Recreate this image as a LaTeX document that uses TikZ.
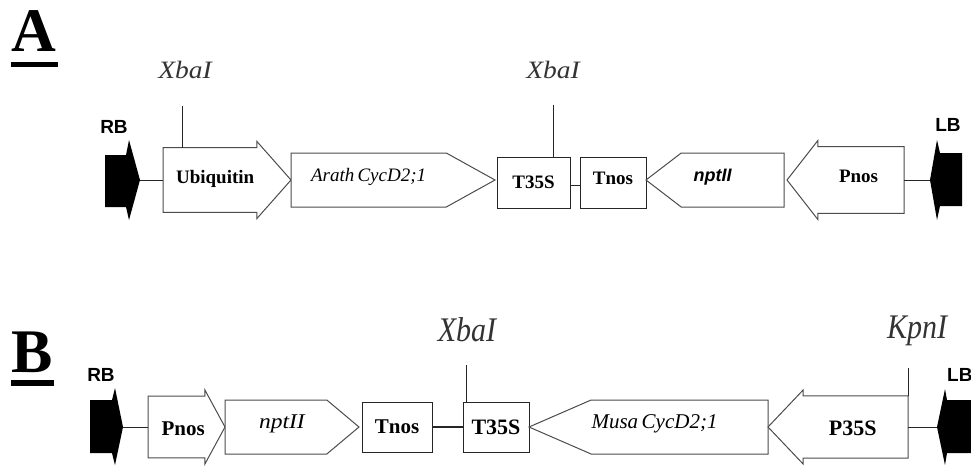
\documentclass[tikz,border=0pt]{standalone}
\usepackage{fontspec}
\setmainfont{Liberation Serif}
\setsansfont{Liberation Sans}
\usetikzlibrary{shapes.arrows, shapes.symbols, positioning}

\tikzstyle{panel} = [inner sep=0pt, font=\bfseries\fontsize{62}{62}\selectfont]
\tikzstyle{bordertag} = [inner sep=0pt, font=\sffamily\bfseries\fontsize{19}{19}\selectfont]
\tikzstyle{site} = [inner sep=0pt, text=black!80, font=\itshape\fontsize{25}{25}\selectfont]
\tikzstyle{genebox} = [rectangle, draw=black!85, line width=1pt, fill=white,
inner sep=0pt, outer sep=0pt, font=\bfseries\fontsize{19}{19}\selectfont]
\tikzstyle{promoter} = [single arrow, draw=black!70, line width=1pt, fill=white,
inner sep=0pt, outer sep=0pt, single arrow head extend=5pt,
font=\bfseries\fontsize{19}{19}\selectfont]
\tikzstyle{cds} = [signal, signal from=nowhere, draw=black!70, line width=1pt,
fill=white, inner sep=0pt, outer sep=0pt, text height=10pt, text depth=7pt,
font=\itshape\fontsize{19}{19}\selectfont]
\tikzstyle{link} = [draw=black!85, line width=0.9pt]

\begin{document}
\begin{tikzpicture}[x=1pt, y=-1pt]
    \useasboundingbox (0,0) rectangle (971,466);

    % construct A
    \node[panel] (labA) at (33.5,31.5) {A};
    \fill (11,62) rectangle (58,67);
    \node[bordertag] (rbA) at (114,127) {RB};
    \fill (105,155) -- (126,155) -- (129,140) -- (140,180) -- (129,220)
        -- (126,207) -- (105,207) -- cycle;
    \coordinate (rbAtip) at (140,180);
    \node[promoter, minimum height=128pt, minimum width=77pt, text height=29.8pt,
        text depth=22.2pt, single arrow tip angle=97, anchor=tail] (ubi) at (163,180) {\hspace*{5pt}Ubiquitin};
    \node[cds, signal to=east, signal pointer angle=58, minimum width=204pt,
        minimum height=54pt, right=0pt of ubi.tip] (arath) {Arath\,CycD2;1};
    \node[genebox, minimum width=73pt, minimum height=51pt, yshift=-2.5pt,
        right=2pt of arath] (t35sA) {T35S};
    \node[genebox, minimum width=66pt, minimum height=51pt, text depth=8pt,
        right=10pt of t35sA] (tnosA) {Tnos};
    \node[cds, signal to=west, signal pointer angle=75, minimum width=138pt,
        minimum height=54pt, yshift=2.5pt, right=0pt of tnosA,
        font=\sffamily\bfseries\itshape\fontsize{18}{18}\selectfont] (nptA) {\hspace*{-40pt}nptII};
    \node[promoter, shape border rotate=180, minimum height=117pt, minimum width=79pt,
        text height=29.3pt, text depth=24.7pt,
        single arrow tip angle=104, anchor=tip] (pnosA) at ([xshift=3pt]nptA.east) {Pnos};
    \fill (962,153) -- (940,153) -- (937,140) -- (930,180) -- (937,220)
        -- (940,206) -- (962,206) -- cycle;
    \coordinate (lbAtip) at (930,180);
    \node[bordertag] (lbA) at (948,125) {LB};

    \draw[link] (rbAtip) -- (ubi.tail);
    \draw[link] ([yshift=-2.5pt]t35sA.east) -- ([yshift=-2.5pt]t35sA.east -| tnosA.west);
    \draw[link] (pnosA.tail) -- (lbAtip);

    \node[site] (xbaA1) at (185,70) {\scalebox{1.1}[1]{XbaI}};
    \coordinate (cutA1) at (182,106);
    \draw[link] (cutA1) -- (cutA1 |- ubi.north);
    \node[site] (xbaA2) at (553,70) {\scalebox{1.1}[1]{XbaI}};
    \coordinate (cutA2) at (553,105);
    \draw[link] (cutA2) -- (cutA2 |- t35sA.north);

    % construct B
    \node[panel] (labB) at (32,352.5) {B};
    \fill (11,380) rectangle (54,386);
    \node[bordertag] (rbB) at (101,375) {RB};
    \fill (90,400) -- (112,400) -- (115,388) -- (123,427) -- (115,465)
        -- (112,453) -- (90,453) -- cycle;
    \coordinate (rbBtip) at (123,427);
    \node[promoter, minimum height=77pt, minimum width=74pt, text height=33.5pt,
        text depth=16.5pt, single arrow tip angle=123, anchor=tail,
        font=\bfseries\fontsize{21}{21}\selectfont] (pnosB) at (148,427) {\hspace*{10pt}Pnos};
    \node[cds, signal to=east, signal pointer angle=80, minimum width=134pt,
        minimum height=54pt, right=0pt of pnosB.tip,
        font=\itshape\fontsize{21}{21}\selectfont] (nptB) {\hspace*{12pt}\scalebox{1.12}[1]{nptII}};
    \node[genebox, minimum width=70pt, minimum height=50pt,
        right=3pt of nptB, font=\bfseries\fontsize{21}{21}\selectfont] (tnosB) {Tnos};
    \node[genebox, minimum width=66pt, minimum height=50pt,
        right=31pt of tnosB, font=\bfseries\fontsize{22}{22}\selectfont] (t35sB) {T35S};
    \node[cds, signal to=west, signal pointer angle=47, minimum width=239pt,
        minimum height=54pt, right=0pt of t35sB,
        font=\itshape\fontsize{21}{21}\selectfont] (musa) {\hspace*{-50pt}Musa\,CycD2;1};
    \node[promoter, shape border rotate=180, minimum height=140pt, minimum width=74pt,
        text height=35.3pt, text depth=17.7pt,
        single arrow tip angle=93, anchor=tip,
        font=\bfseries\fontsize{22}{22}\selectfont] (p35s) at (musa.east) {P35S};
    \fill (971,400) -- (947,400) -- (945,389) -- (937,427) -- (945,465)
        -- (947,453) -- (971,453) -- cycle;
    \coordinate (lbBtip) at (937,427);
    \node[bordertag, anchor=west] (lbB) at (947,375) {LB};

    \draw[link] (rbBtip) -- (pnosB.tail);
    \draw[link, line width=2.4pt] (tnosB.east) -- (t35sB.west);
    \draw[link] (p35s.tail) -- (lbBtip);

    \node[site, font=\itshape\fontsize{30}{30}\selectfont] (xbaB) at (467,330) {\scalebox{1}[1.15]{XbaI}};
    \coordinate (cutB1) at (466,365);
    \draw[link] (cutB1) -- (cutB1 |- t35sB.north);
    \node[site, font=\itshape\fontsize{30}{30}\selectfont] (kpnB) at (917,331) {\scalebox{1}[1.15]{KpnI}};
    \coordinate (cutB2) at (908,368);
    \draw[link] (cutB2) -- (cutB2 |- p35s.north);
\end{tikzpicture}
\end{document}
